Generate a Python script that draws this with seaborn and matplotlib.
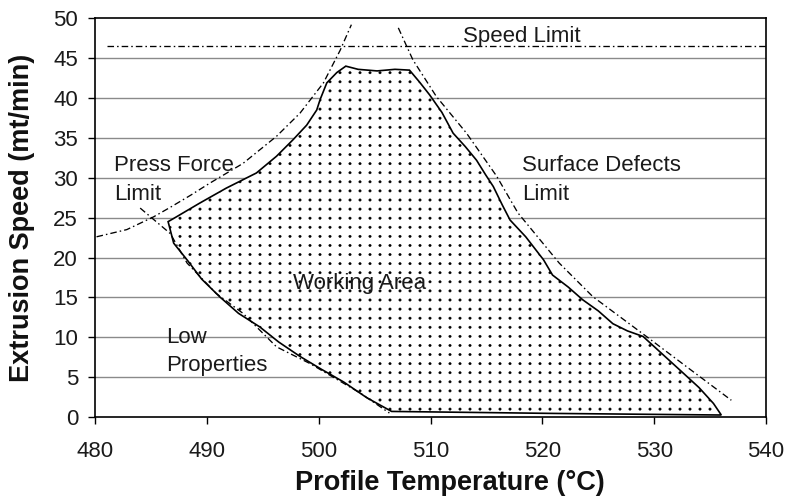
import numpy as np
import pandas as pd
import matplotlib
matplotlib.use("Agg")
import matplotlib.pyplot as plt
from matplotlib import hatch as mhatch
from matplotlib.path import Path
import seaborn as sns

# ---- data -------------------------------------------------------------
# Working area boundary (profile temperature °C, extrusion speed mt/min)
work_temp = [502.4, 503.5, 505.2, 506.8, 508.1, 509.0, 509.9, 511.0, 512.0,
             513.1, 514.1, 514.9, 515.6, 516.4, 517.1, 518.5, 520.1, 520.9,
             522.3, 523.6, 525.0, 526.3, 527.6, 529.0, 530.8, 532.6, 534.0,
             535.3, 536.0, 521.0, 506.5, 504.3, 502.2, 500.2, 498.3, 496.4,
             494.7, 492.8, 491.1, 489.5, 488.2, 487.0, 486.5, 487.0, 489.3,
             491.7, 494.4, 496.2, 497.7, 498.9, 499.8, 500.1, 500.7, 501.6,
             502.4]
work_speed = [44.0, 43.6, 43.4, 43.6, 43.5, 42.0, 40.4, 38.2, 35.6, 33.9,
              32.2, 30.4, 28.9, 26.6, 24.7, 22.6, 19.7, 17.8, 16.3, 14.7,
              13.3, 11.7, 10.8, 10.1, 7.8, 5.5, 3.7, 1.7, 0.25, 0.45, 0.7,
              2.4, 4.4, 6.0, 7.6, 9.4, 11.3, 13.0, 15.1, 17.3, 19.7, 21.8,
              24.5, 24.9, 26.8, 28.7, 30.6, 32.7, 34.8, 36.6, 38.5, 39.8,
              41.9, 43.2, 44.0]

# Press force limit
press_temp = [480.1, 482.8, 485.2, 486.7, 488.5, 490.2, 493.2, 496.2,
              498.3, 500.4, 501.9, 502.9]
press_speed = [22.6, 23.5, 25.1, 26.3, 27.8, 29.3, 31.8, 35.2, 38.1, 41.9,
               46.0, 49.2]

# Low properties limit
low_temp = [484.0, 486.7, 488.2, 490.8, 493.2, 496.2, 499.2, 503.7, 506.3]
low_speed = [26.2, 23.0, 19.3, 15.5, 13.0, 8.8, 6.7, 3.0, 0.5]

# Surface defects limit
surf_temp = [507.1, 508.4, 510.5, 513.2, 515.9, 517.8, 521.5, 524.5, 529.3,
             532.9, 536.9]
surf_speed = [48.8, 44.8, 40.2, 35.6, 30.2, 25.6, 19.3, 15.1, 10.1, 6.3, 2.1]

# Speed limit
speed_limit = 46.5
speed_limit_temp = [481.0, 540.0]

x_ticks = [480, 490, 500, 510, 520, 530, 540]
y_ticks = [0, 5, 10, 15, 20, 25, 30, 35, 40, 45, 50]

region_labels = [
    ("Press Force", 481.65, 31.5, "left"),
    ("Limit", 481.65, 27.9, "left"),
    ("Surface Defects", 518.2, 31.6, "left"),
    ("Limit", 518.2, 27.9, "left"),
    ("Working Area", 503.65, 16.8, "center"),
    ("Low", 486.3, 10.0, "left"),
    ("Properties", 486.3, 6.5, "left"),
    ("Speed Limit", 512.9, 47.7, "left"),
]


# ---- square-lattice dot fill for the "." hatch ---------------------------
class GridDots(mhatch.HatchPatternBase):
    def __init__(self, hatch, density):
        n = hatch.count('.')
        self.ncols = 10 if n else 0
        self.nrows = 11 if n else 0
        circle = Path.unit_circle()
        self.shape_vertices = circle.vertices * 0.012
        self.shape_codes = circle.codes
        k = len(circle.vertices)
        self.num_vertices = (self.ncols + 1) * (self.nrows + 1) * k if n else 0

    def set_vertices_and_codes(self, vertices, codes):
        parts_v, parts_c = [], []
        for r in np.linspace(0, 1, self.nrows + 1):
            for c in np.linspace(0, 1, self.ncols + 1):
                parts_v.append(self.shape_vertices + [c, r])
                parts_c.append(self.shape_codes)
        np.concatenate(parts_v, out=vertices)
        np.concatenate(parts_c, out=codes)


mhatch._hatch_types[mhatch._hatch_types.index(mhatch.SmallFilledCircles)] = GridDots

# ---- style ------------------------------------------------------------
sns.set_theme(style="white")
plt.rcParams["font.family"] = ["Liberation Sans", "DejaVu Sans"]
plt.rcParams["hatch.linewidth"] = 0.3
plt.rcParams["hatch.color"] = "black"
plt.rcParams["lines.scale_dashes"] = False

fig = plt.figure(figsize=(7.87, 5.04), dpi=100)
ax = fig.add_axes([0.1213, 0.1726, 0.852, 0.7911])

dashdot = (0, (4.7, 2.2, 1.1, 2.2))

# grid
for y in y_ticks[1:-1]:
    ax.axhline(y, color="#8a8a8a", lw=1.0, zorder=0)

# working area
ax.fill(work_temp, work_speed, facecolor="white", edgecolor="black",
        hatch=".", lw=1.2, zorder=2)

# limit curves
curves = [
    pd.DataFrame({"temp": press_temp, "speed": press_speed}),
    pd.DataFrame({"temp": low_temp, "speed": low_speed}),
    pd.DataFrame({"temp": surf_temp, "speed": surf_speed}),
    pd.DataFrame({"temp": speed_limit_temp,
                  "speed": [speed_limit] * len(speed_limit_temp)}),
]
for df in curves:
    sns.lineplot(data=df, x="temp", y="speed", sort=False, ax=ax,
                 color="black", lw=0.95, linestyle=dashdot, zorder=3)

for text, x, y, ha in region_labels:
    ax.text(x, y, text, ha=ha, va="center", fontsize=16, color="#1a1a1a",
            zorder=4)

ax.set_xlim(480, 540)
ax.set_ylim(0, 50)
ax.set_xticks(x_ticks)
ax.set_yticks(y_ticks)
ax.tick_params(axis="both", direction="out", length=5, width=1,
               color="black", labelsize=16, labelcolor="#1a1a1a",
               bottom=True, left=True)
ax.tick_params(axis="x", pad=12)
ax.tick_params(axis="y", pad=7.5)
for sp in ax.spines.values():
    sp.set_visible(True)
    sp.set_color("black")
    sp.set_linewidth(1.2)

ax.set_xlabel("Profile Temperature (°C)", fontsize=19.5, fontweight="bold",
              color="#111111")
ax.set_ylabel("Extrusion Speed (mt/min)", fontsize=19.5, fontweight="bold",
              color="#111111")
ax.xaxis.set_label_coords(0.529, -0.133)
ax.yaxis.set_label_coords(-0.09, 0.5)

fig.savefig("out.png", dpi=100)
